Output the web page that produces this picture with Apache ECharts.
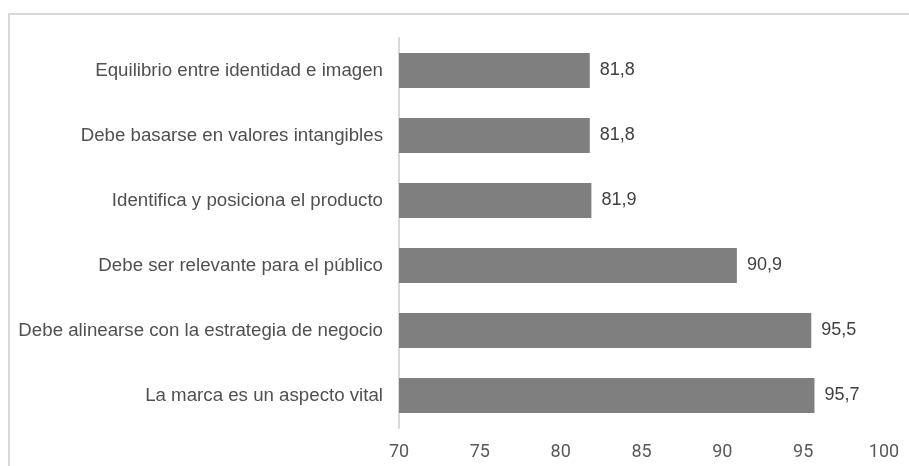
<!DOCTYPE html>
<html>
<head>
<meta charset="utf-8">
<script src="https://cdn.jsdelivr.net/npm/echarts@6/dist/echarts.min.js"></script>
<style>html,body{margin:0;padding:0;background:#fff;}#c{width:909px;height:466px;}</style>
</head>
<body>
<div id="c"></div>
<script>
const categories = [
  "Equilibrio entre identidad e imagen",
  "Debe basarse en valores intangibles",
  "Identifica y posiciona el producto",
  "Debe ser relevante para el público",
  "Debe alinearse con la estrategia de negocio",
  "La marca es un aspecto vital"
];
const values = [81.8, 81.8, 81.9, 90.9, 95.5, 95.7];
const xTicks = [70, 75, 80, 85, 90, 95, 100];

const chart = echarts.init(document.getElementById('c'), null, {renderer: 'canvas'});
chart.setOption({
  animation: false,
  backgroundColor: '#ffffff',
  graphic: [{
    type: 'rect',
    shape: {x: 9, y: 14, width: 920, height: 470},
    style: {fill: 'none', stroke: '#d9d9d9', lineWidth: 2},
    silent: true
  }],
  grid: {left: 399, right: 25, top: 38, bottom: 38, containLabel: false},
  xAxis: {
    type: 'value',
    min: xTicks[0],
    max: xTicks[xTicks.length - 1],
    interval: 5,
    axisLine: {show: false},
    axisTick: {show: false},
    splitLine: {show: false},
    axisLabel: {color: '#595959', fontSize: 18, fontFamily: 'Roboto', margin: 15}
  },
  yAxis: {
    type: 'category',
    data: categories,
    inverse: true,
    axisLine: {show: true, lineStyle: {color: '#d9d9d9', width: 2}},
    axisTick: {show: false},
    axisLabel: {color: '#505050', fontSize: 18.7, fontFamily: 'Liberation Sans', margin: 16}
  },
  series: [{
    type: 'bar',
    data: values,
    barCategoryGap: '46%',
    itemStyle: {color: '#7f7f7f'},
    label: {
      show: true,
      position: 'right',
      distance: 10,
      color: '#404040',
      fontSize: 18,
      fontFamily: 'Liberation Sans',
      formatter: p => String(p.value).replace('.', ',')
    }
  }]
});
</script>
</body>
</html>
